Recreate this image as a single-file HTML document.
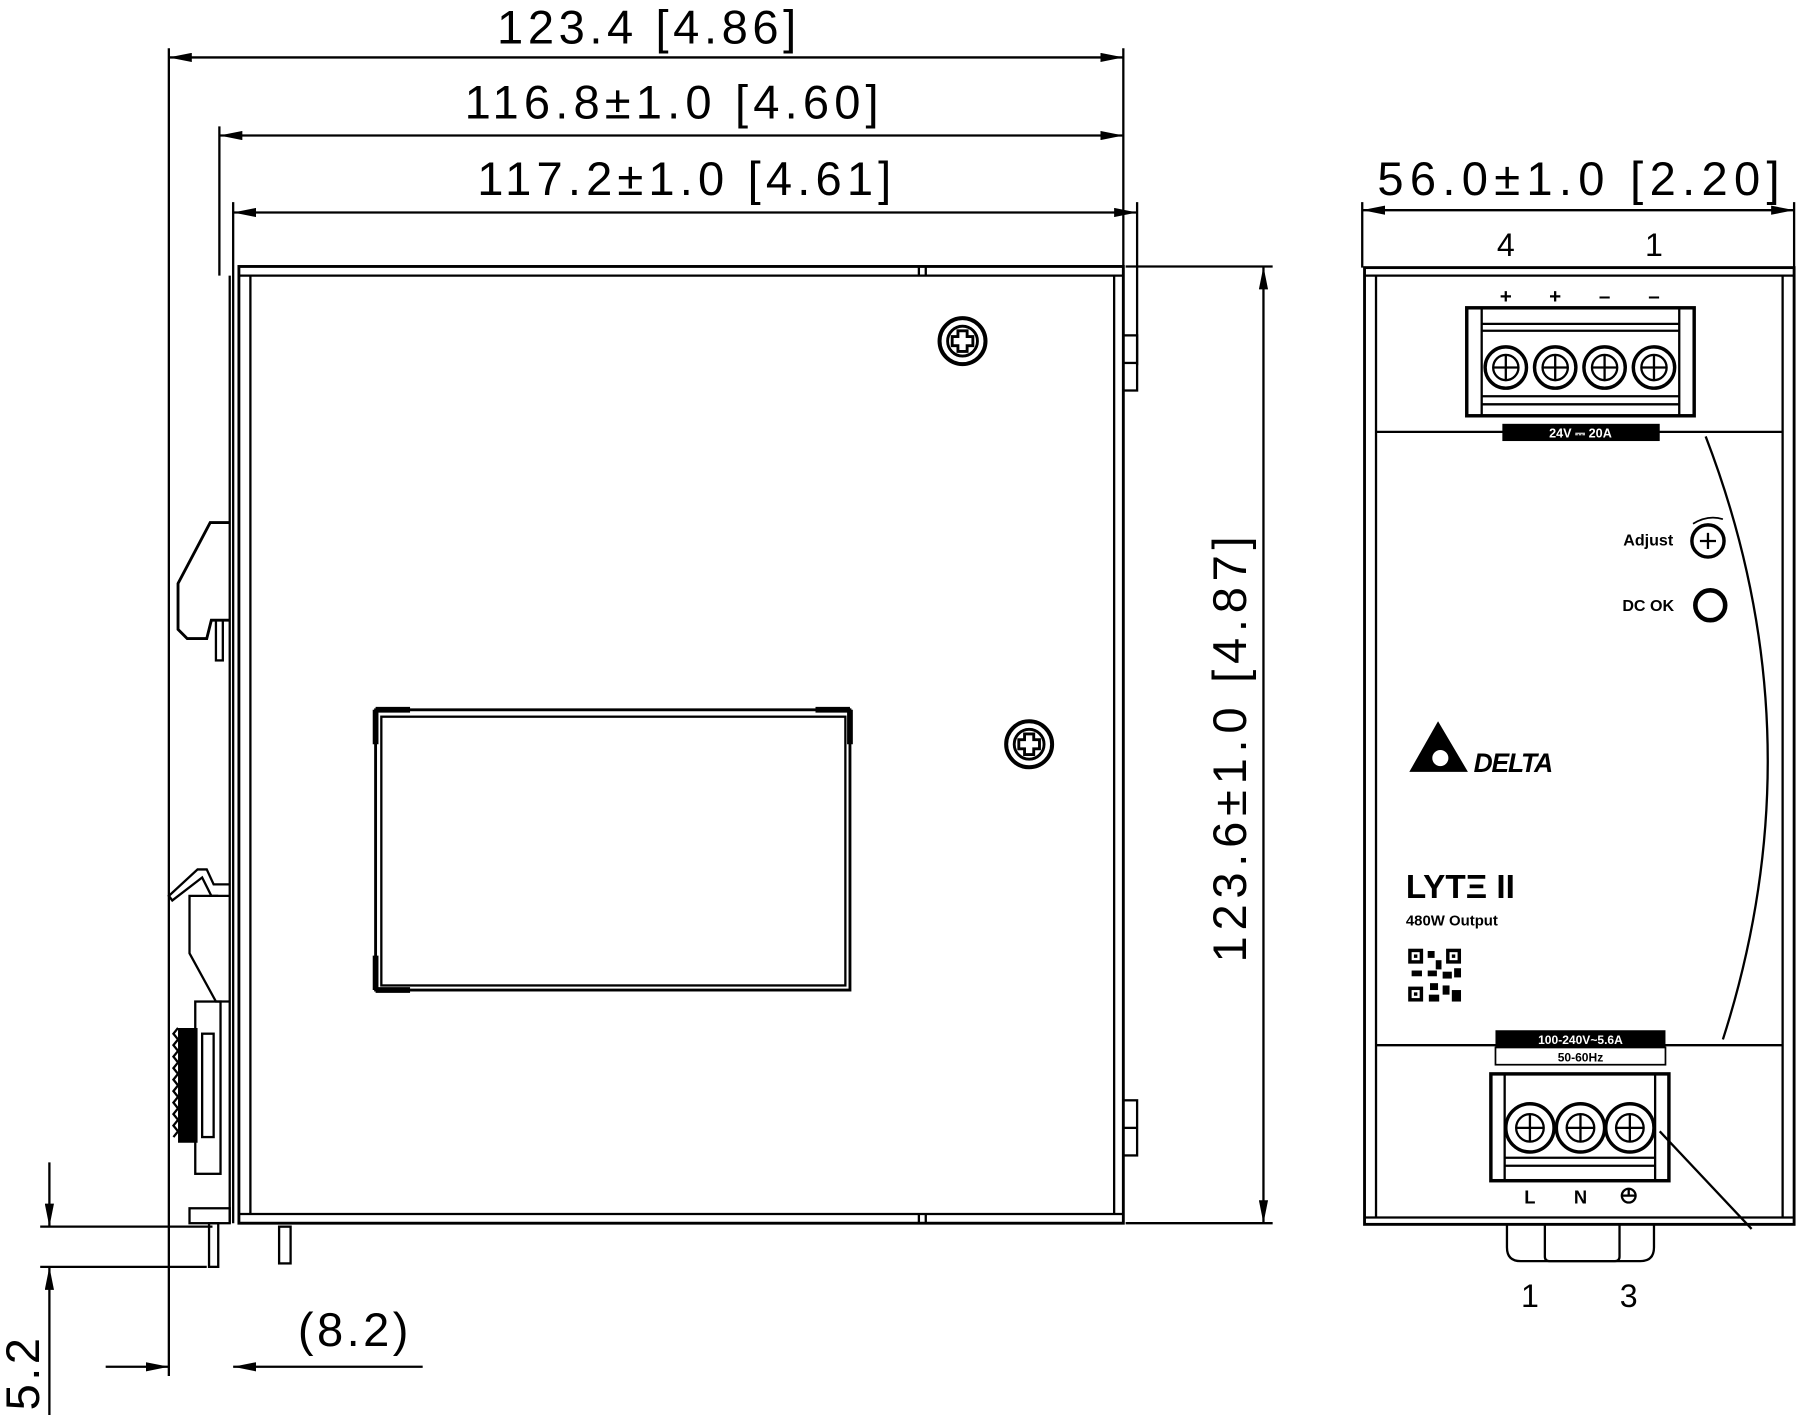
<!DOCTYPE html>
<html><head><meta charset="utf-8"><style>html,body{margin:0;padding:0;background:#fff}svg{display:block}</style></head>
<body>
<svg width="1801" height="1418" viewBox="0 0 1568 1234.6" preserveAspectRatio="none" xmlns="http://www.w3.org/2000/svg" font-family="'Liberation Sans', sans-serif">
<defs>
<marker id="a" viewBox="0 0 20 8" refX="20" refY="4" markerWidth="20" markerHeight="8" markerUnits="userSpaceOnUse" orient="auto-start-reverse"><path d="M0 0 L20 4 L0 8 Z" fill="#000"/></marker>
</defs>
<g stroke="#000" fill="none" stroke-width="2">
<line x1="147" y1="42" x2="147" y2="1198"/>
<line x1="978" y1="42" x2="978" y2="232"/>
<line x1="191" y1="110" x2="191" y2="240"/>
<line x1="203" y1="176" x2="203" y2="236"/>
<line x1="990" y1="176" x2="990" y2="318"/>
<line x1="147" y1="50" x2="978" y2="50" marker-start="url(#a)" marker-end="url(#a)"/>
<line x1="191" y1="118" x2="978" y2="118" marker-start="url(#a)" marker-end="url(#a)"/>
<line x1="203" y1="185" x2="990" y2="185" marker-start="url(#a)" marker-end="url(#a)"/>
<rect x="208" y="232" width="770" height="833" stroke-width="2.5"/>
<line x1="218" y1="240" x2="218" y2="1057"/>
<line x1="208" y1="240" x2="978" y2="240"/>
<line x1="208" y1="1057" x2="978" y2="1057"/>
<line x1="800" y1="232" x2="800" y2="240"/><line x1="806" y1="232" x2="806" y2="240"/>
<line x1="800" y1="1057" x2="800" y2="1065"/><line x1="806" y1="1057" x2="806" y2="1065"/>
<line x1="970" y1="240" x2="970" y2="1057"/>
<circle cx="838" cy="297" r="20" stroke-width="3.5"/><circle cx="838" cy="297" r="13" stroke-width="2.5"/>
<path d="M834 288h8v5h5v8h-5v5h-8v-5h-5v-8h5z" stroke-width="2.5"/>
<circle cx="896" cy="648" r="20" stroke-width="3.5"/><circle cx="896" cy="648" r="13" stroke-width="2.5"/>
<path d="M892 639h8v5h5v8h-5v5h-8v-5h-5v-8h5z" stroke-width="2.5"/>
<rect x="327" y="618" width="413" height="244" stroke-width="2.5"/>
<rect x="332" y="624" width="404" height="234"/>
<path d="M327 618h30M327 618v30M740 618h-30M740 618v30M327 862h30M327 862v-30" stroke-width="5"/>
<rect x="978" y="292" width="12" height="48"/><line x1="978" y1="316" x2="990" y2="316"/>
<rect x="978" y="958" width="12" height="48"/><line x1="978" y1="982" x2="990" y2="982"/>
<line x1="200" y1="240" x2="200" y2="1065"/>
<line x1="203" y1="236" x2="203" y2="1065"/>
<path d="M200 455 L183 455 L155 508 L155 548 L163 556 L180 556 L184 540 L200 540" stroke-width="2.5"/>
<rect x="188" y="540" width="6" height="35"/>
<path d="M200 780 L184 780 L176 764 L150 784 L147 780 L172 757 L180 757 L186 770 L200 770" stroke-width="2"/>
<path d="M190 780 L165 780 L165 830 L188 872 L200 872" stroke-width="2"/>
<rect x="170" y="872" width="22" height="150"/>
<rect x="176" y="900" width="10" height="90"/>
<path d="M155 895 L172 895 L172 995 L155 995" fill="#000" stroke="none"/>
<path d="M155 895 l-4 5 l4 5 l-4 5 l4 5 l-4 5 l4 5 l-4 5 l4 5 l-4 5 l4 5 l-4 5 l4 5 l-4 5 l4 5 l-4 5 l4 5 l-4 5 l4 5 l-4 5" stroke-width="2"/>
<rect x="165" y="1052" width="35" height="13"/>
<rect x="182" y="1065" width="8" height="38"/>
<rect x="243" y="1068" width="10" height="32"/>
<line x1="980" y1="232" x2="1108" y2="232"/>
<line x1="980" y1="1065" x2="1108" y2="1065"/>
<line x1="1100" y1="232" x2="1100" y2="1065" marker-start="url(#a)" marker-end="url(#a)"/>
<line x1="35" y1="1068" x2="185" y2="1068"/>
<line x1="35" y1="1103" x2="180" y2="1103"/>
<line x1="43" y1="1012" x2="43" y2="1068" marker-end="url(#a)"/>
<line x1="43" y1="1232" x2="43" y2="1103" marker-end="url(#a)"/>
<line x1="92" y1="1190" x2="147" y2="1190" marker-end="url(#a)"/>
<line x1="368" y1="1190" x2="203" y2="1190" marker-end="url(#a)"/>
<line x1="1186" y1="176" x2="1186" y2="233"/>
<line x1="1562" y1="176" x2="1562" y2="233"/>
<line x1="1186" y1="183" x2="1562" y2="183" marker-start="url(#a)" marker-end="url(#a)"/>
<rect x="1188" y="233" width="374" height="833" stroke-width="2.5"/>
<line x1="1198" y1="240" x2="1198" y2="1060"/><line x1="1552" y1="240" x2="1552" y2="1060"/>
<line x1="1188" y1="240" x2="1562" y2="240"/>
<line x1="1198" y1="376" x2="1552" y2="376"/>
<line x1="1198" y1="910" x2="1552" y2="910"/>
<line x1="1188" y1="1060" x2="1562" y2="1060"/>
<rect x="1277" y="268" width="198" height="94" stroke-width="3"/>
<line x1="1290" y1="268" x2="1290" y2="362"/><line x1="1462" y1="268" x2="1462" y2="362"/>
<line x1="1290" y1="282" x2="1462" y2="282"/><line x1="1290" y1="288" x2="1462" y2="288"/>
<line x1="1290" y1="345" x2="1462" y2="345"/><line x1="1290" y1="352" x2="1462" y2="352"/>
<g stroke-width="3">
<circle cx="1311" cy="320" r="18"/><circle cx="1354" cy="320" r="18"/><circle cx="1397" cy="320" r="18"/><circle cx="1440" cy="320" r="18"/>
</g>
<g stroke-width="2">
<circle cx="1311" cy="320" r="11"/><circle cx="1354" cy="320" r="11"/><circle cx="1397" cy="320" r="11"/><circle cx="1440" cy="320" r="11"/>
<path d="M1300 320h22M1311 309v22M1343 320h22M1354 309v22M1386 320h22M1397 309v22M1429 320h22M1440 309v22"/>
</g>
<path d="M1485 380 Q1585 640 1500 905"/>
<circle cx="1487" cy="471" r="14" stroke-width="3"/>
<path d="M1480 471h14M1487 464v14"/>
<path d="M1474 456 Q1487 448 1500 452" stroke-width="1.5"/>
<circle cx="1489" cy="527" r="13" stroke-width="4"/>
<rect x="1298" y="935" width="155" height="93" stroke-width="3"/>
<line x1="1310" y1="935" x2="1310" y2="1028"/><line x1="1441" y1="935" x2="1441" y2="1028"/>
<line x1="1310" y1="1008" x2="1441" y2="1008"/><line x1="1310" y1="1015" x2="1441" y2="1015"/>
<g stroke-width="3"><circle cx="1332" cy="982" r="21"/><circle cx="1376" cy="982" r="21"/><circle cx="1419" cy="982" r="21"/></g>
<g stroke-width="2"><circle cx="1332" cy="982" r="12"/><circle cx="1376" cy="982" r="12"/><circle cx="1419" cy="982" r="12"/>
<path d="M1320 982h24M1332 970v24M1364 982h24M1376 970v24M1407 982h24M1419 970v24"/></g>
<line x1="1445" y1="985" x2="1525" y2="1070" stroke-width="2"/>
<rect x="1302" y="912" width="148" height="15" stroke-width="1.5"/>
<path d="M1312 1066 v20 q0 12 12 12 h104 q12 0 12 -12 v-20"/>
<path d="M1345 1066 v28 q0 4 4 4 h57 q4 0 4 -4 v-28"/>
<circle cx="1418" cy="1041" r="6" stroke-width="2"/>
<path d="M1412 1041h12M1418 1035v6"/>
</g>
<rect x="1308" y="369" width="137" height="15" fill="#000"/>
<text x="1376" y="381" font-size="11" font-weight="bold" fill="#fff" text-anchor="middle">24V ⎓ 20A</text>
<rect x="1302" y="897" width="148" height="15" fill="#000"/>
<text x="1376" y="909" font-size="10.5" font-weight="bold" fill="#fff" text-anchor="middle">100-240V~5.6A</text>
<text x="1376" y="924" font-size="10.5" font-weight="bold" fill="#000" text-anchor="middle">50-60Hz</text>
<path d="M1252 628 L1278 672 L1227 672 Z" fill="#000"/>
<circle cx="1254" cy="660" r="7" fill="#fff"/>
<text x="1283" y="672" font-size="23" font-weight="bold" font-style="italic" fill="#000" letter-spacing="-1">DELTA</text>
<text x="1224" y="782" font-size="29" font-weight="bold" fill="#000">LYTΞ II</text>
<text x="1224" y="806" font-size="13" font-weight="bold" fill="#000">480W Output</text>
<g fill="#000">
<rect x="1226" y="826" width="13" height="13"/><rect x="1259" y="826" width="13" height="13"/><rect x="1226" y="859" width="13" height="13"/>
<rect x="1243" y="828" width="6" height="6"/><rect x="1250" y="836" width="5" height="8"/><rect x="1243" y="845" width="8" height="5"/><rect x="1256" y="846" width="8" height="6"/><rect x="1266" y="843" width="6" height="8"/><rect x="1229" y="845" width="9" height="5"/><rect x="1245" y="856" width="7" height="6"/><rect x="1256" y="858" width="6" height="8"/><rect x="1264" y="862" width="8" height="10"/><rect x="1244" y="866" width="9" height="6"/>
</g>
<g fill="#fff"><rect x="1229" y="829" width="7" height="7"/><rect x="1262" y="829" width="7" height="7"/><rect x="1229" y="862" width="7" height="7"/></g>
<g fill="#000"><rect x="1231" y="831" width="3" height="3"/><rect x="1264" y="831" width="3" height="3"/><rect x="1231" y="864" width="3" height="3"/></g>
<g fill="#000" font-size="41" text-anchor="middle">
<text x="565" y="38" letter-spacing="4">123.4  [4.86]</text>
<text x="587" y="103" letter-spacing="4.5">116.8±1.0 [4.60]</text>
<text x="598" y="170" letter-spacing="4.5">117.2±1.0 [4.61]</text>
<text x="1377" y="170" letter-spacing="5.5">56.0±1.0 [2.20]</text>
<text x="309" y="1172" letter-spacing="3">(8.2)</text>
<text transform="translate(1085 650) rotate(-90)" letter-spacing="5">123.6±1.0  [4.87]</text>
<text transform="translate(34 1195) rotate(-90)" letter-spacing="3">5.2</text>
</g>
<g fill="#000" font-size="28" text-anchor="middle">
<text x="1311" y="223">4</text><text x="1440" y="223">1</text>
<text x="1332" y="1138">1</text><text x="1418" y="1138">3</text>
</g>
<g fill="#000" font-size="18" font-weight="bold" text-anchor="middle">
<text x="1311" y="264">+</text><text x="1354" y="264">+</text><text x="1397" y="264">–</text><text x="1440" y="264">–</text>
<text x="1332" y="1048" font-size="16">L</text><text x="1376" y="1048" font-size="16">N</text>
</g>
<text x="1435" y="475" font-size="14" font-weight="bold" text-anchor="middle">Adjust</text>
<text x="1435" y="532" font-size="14" font-weight="bold" text-anchor="middle">DC OK</text>
</svg>
</body></html>
